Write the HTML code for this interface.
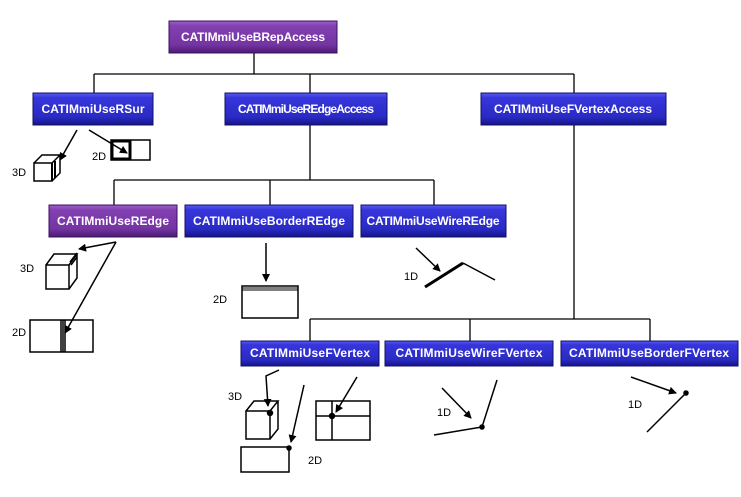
<!DOCTYPE html>
<html><head><meta charset="utf-8"><style>
html,body{margin:0;padding:0;background:#fff;}
svg{display:block;}
.t{font-family:"Liberation Sans",sans-serif;font-weight:bold;font-size:12px;fill:#fff;}
.l{font-family:"Liberation Sans",sans-serif;font-size:11px;fill:#000;}
</style></head><body>
<svg width="741" height="497" viewBox="0 0 741 497" xmlns="http://www.w3.org/2000/svg">
<defs>
<linearGradient id="b" x1="0" y1="0" x2="0" y2="1">
<stop offset="0" stop-color="#5a5af5"/><stop offset="0.15" stop-color="#3636dc"/><stop offset="0.75" stop-color="#2a2ac4"/><stop offset="1" stop-color="#14148a"/></linearGradient>
<linearGradient id="p" x1="0" y1="0" x2="0" y2="1">
<stop offset="0" stop-color="#a060c8"/><stop offset="0.15" stop-color="#8240b0"/><stop offset="0.75" stop-color="#7434a2"/><stop offset="1" stop-color="#4a1a70"/></linearGradient>
<marker id="a" markerWidth="8" markerHeight="8" refX="7" refY="4" orient="auto" markerUnits="userSpaceOnUse"><path d="M0,0 L8,4 L0,8 z" fill="#000"/></marker>
</defs>
<g stroke="#000" stroke-width="1.3" fill="none">
<path d="M254,53V74 M94,74H574 M94,74V93 M310,74V93 M574,74V93"/>
<path d="M310,125V180 M114,180H434 M114,180V205 M270,180V205 M434,180V205"/>
<path d="M574,125V319 M310,319H650 M310,319V341 M470,319V341 M650,319V341"/>
</g>
<g stroke="#101060" stroke-width="1">
<rect x="169" y="21" width="168" height="32" fill="url(#p)" stroke="#3a1060"/>
<rect x="33" y="93" width="120" height="32" fill="url(#b)"/>
<rect x="225" y="93" width="162" height="32" fill="url(#b)"/>
<rect x="481" y="93" width="185" height="32" fill="url(#b)"/>
<rect x="49" y="205" width="128" height="32" fill="url(#p)" stroke="#3a1060"/>
<rect x="185" y="205" width="168" height="32" fill="url(#b)"/>
<rect x="361" y="205" width="145" height="32" fill="url(#b)"/>
<rect x="241" y="341" width="138" height="25" fill="url(#b)"/>
<rect x="385" y="341" width="168" height="25" fill="url(#b)"/>
<rect x="561" y="341" width="177" height="25" fill="url(#b)"/>
</g>
<text class="t" x="253" y="41" text-anchor="middle" textLength="144">CATIMmiUseBRepAccess</text>
<text class="t" x="93" y="113" text-anchor="middle" textLength="103">CATIMmiUseRSur</text>
<text class="t" x="306" y="113" text-anchor="middle" textLength="136">CATIMmiUseREdgeAccess</text>
<text class="t" x="573" y="113" text-anchor="middle" textLength="158">CATIMmiUseFVertexAccess</text>
<text class="t" x="113" y="225" text-anchor="middle" textLength="112">CATIMmiUseREdge</text>
<text class="t" x="269" y="225" text-anchor="middle" textLength="152">CATIMmiUseBorderREdge</text>
<text class="t" x="433" y="225" text-anchor="middle" textLength="133">CATIMmiUseWireREdge</text>
<text class="t" x="310" y="357" text-anchor="middle" textLength="120">CATIMmiUseFVertex</text>
<text class="t" x="469" y="357" text-anchor="middle" textLength="147">CATIMmiUseWireFVertex</text>
<text class="t" x="649" y="357" text-anchor="middle" textLength="160">CATIMmiUseBorderFVertex</text>
<g stroke="#000" stroke-width="1.5" fill="#fff">
<!-- RSur -->
<path d="M34,163 h18 v18 h-18z M34,163 l8,-8 h18 l-8,8 M52,181 l8,-8 v-18" />
<path d="M52,163 v18 M55,161 v17" fill="none" stroke-width="2"/>
<line x1="77" y1="130" x2="60" y2="160" marker-end="url(#a)"/>
<rect x="111" y="140" width="39" height="20"/>
<rect x="112" y="141" width="18" height="18" stroke-width="3"/>
<line x1="89" y1="130" x2="127" y2="153" marker-end="url(#a)"/>
<!-- REdge -->
<path d="M46,265 h23 v24 h-23z M46,265 l8,-11 h23 l-8,11 M69,289 l8,-11 v-24"/>
<path d="M70,262 l7,-9 M71,265 l6,-8" fill="none"/>
<line x1="116" y1="242" x2="79" y2="249" marker-end="url(#a)"/>
<rect x="30" y="320" width="63" height="32"/>
<path d="M61,320 v32 M63,320 v32 M65,320 v32" fill="none"/>
<line x1="116" y1="242" x2="65" y2="333" marker-end="url(#a)"/>
<!-- BorderREdge -->
<line x1="266" y1="243" x2="266" y2="281" marker-end="url(#a)"/>
<rect x="242" y="286" width="56" height="32"/>
<path d="M242,288 h56 M242,290 h56" fill="none" stroke-width="1"/>
<!-- WireREdge -->
<line x1="416" y1="248" x2="440" y2="271" marker-end="url(#a)"/>
<path d="M425,287 L463,263" fill="none" stroke-width="3"/>
<path d="M463,263 L495,280" fill="none"/>
<!-- FVertex -->
<path d="M246,411 h24 v28 h-24z M246,411 l8,-10 h24 l-8,10 M270,439 l8,-10 v-28"/>
<path d="M279,370 L266,376 L268,406" fill="none" marker-end="url(#a)"/>
<circle cx="270" cy="413" r="2.5" fill="#000"/>
<rect x="241" y="447" width="48" height="25"/>
<line x1="304" y1="385" x2="291" y2="442" marker-end="url(#a)"/>
<circle cx="289" cy="448" r="2" fill="#000"/>
<rect x="316" y="401" width="54" height="39"/>
<path d="M332,401 v39 M316,416 h54" fill="none"/>
<line x1="357" y1="377" x2="336" y2="412" marker-end="url(#a)"/>
<circle cx="332" cy="416" r="2.5" fill="#000"/>
<!-- WireFVertex -->
<line x1="442" y1="388" x2="471" y2="418" marker-end="url(#a)"/>
<path d="M434,435 L482,427 L497,380" fill="none"/>
<circle cx="482" cy="427" r="2" fill="#000"/>
<!-- BorderFVertex -->
<line x1="631" y1="377" x2="676" y2="393" marker-end="url(#a)"/>
<line x1="647" y1="432" x2="686" y2="393"/>
<circle cx="686" cy="393" r="2" fill="#000"/>
</g>
<text class="l" x="12" y="176">3D</text>
<text class="l" x="92" y="160">2D</text>
<text class="l" x="20" y="272">3D</text>
<text class="l" x="12" y="336">2D</text>
<text class="l" x="213" y="303">2D</text>
<text class="l" x="404" y="280">1D</text>
<text class="l" x="228" y="400">3D</text>
<text class="l" x="308" y="464">2D</text>
<text class="l" x="437" y="416">1D</text>
<text class="l" x="628" y="408">1D</text>
</svg>
</body></html>
